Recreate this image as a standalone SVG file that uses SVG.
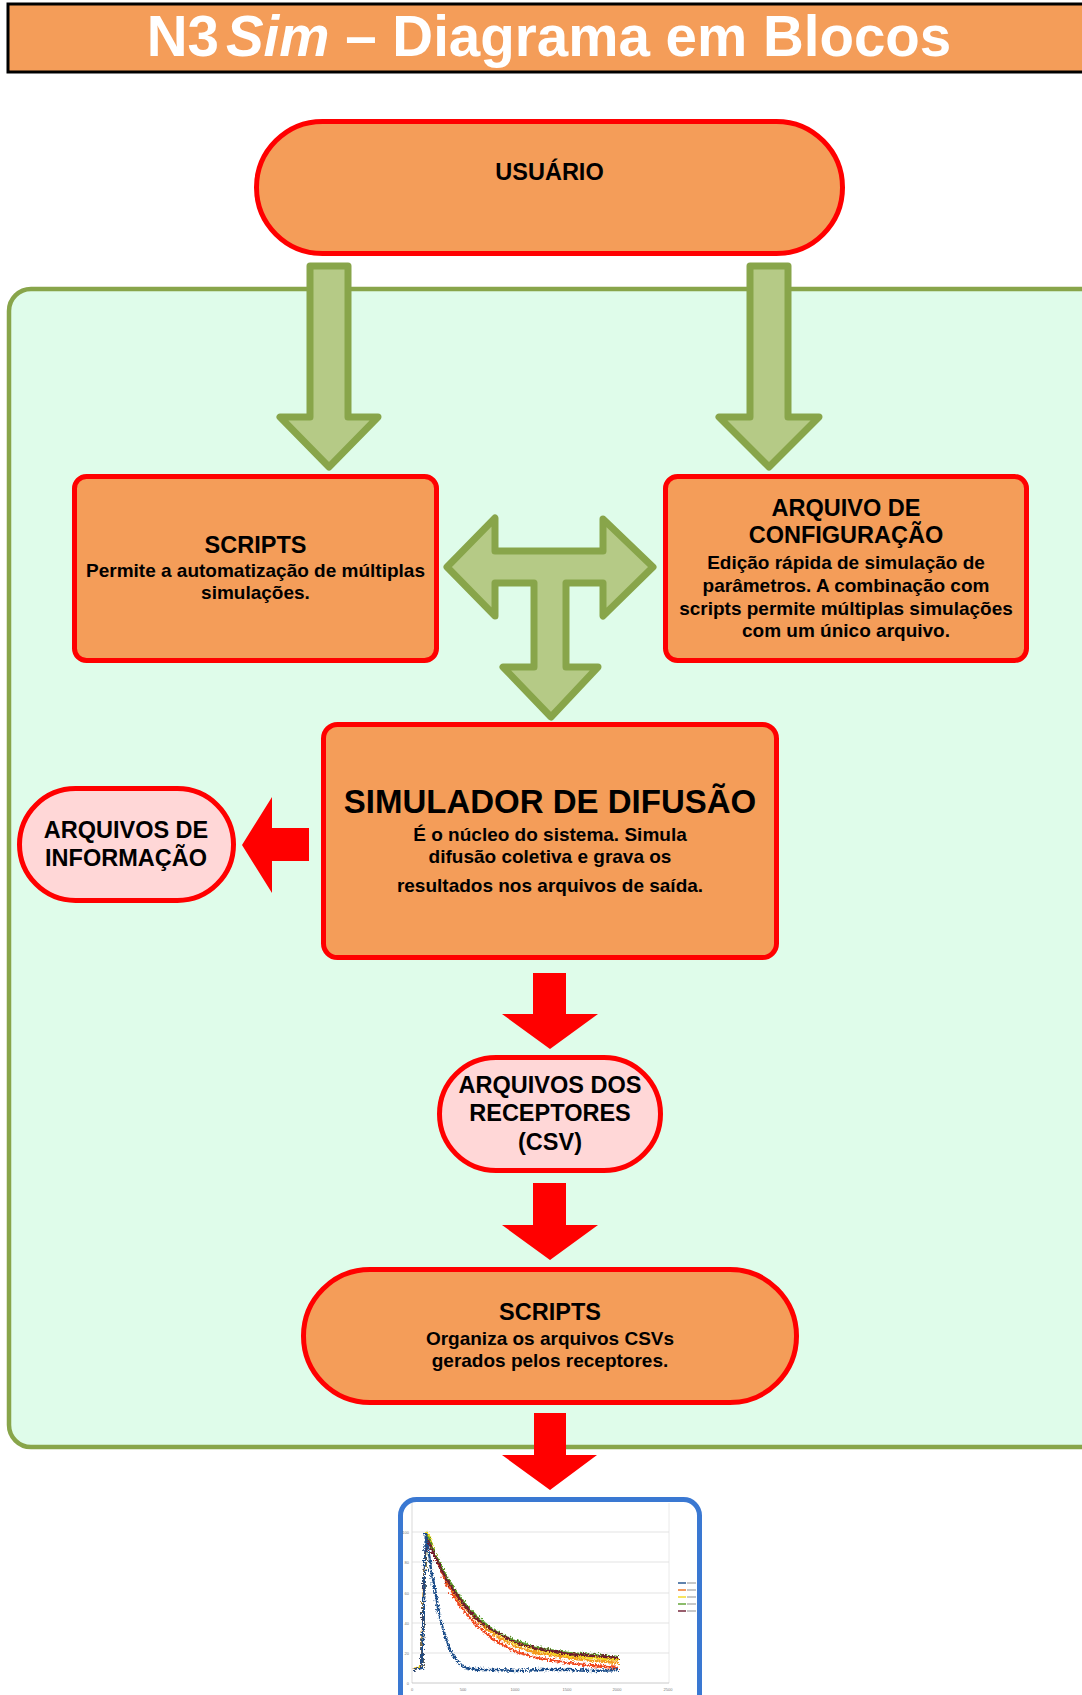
<svg xmlns="http://www.w3.org/2000/svg" width="1082" height="1695" viewBox="0 0 1082 1695">
<defs>
<style>
.t{font-family:"Liberation Sans",Arial,sans-serif;font-weight:bold;fill:#000;text-anchor:middle}
.h{font-size:23.5px}
.s{font-size:19px}
.box{fill:#F49D59;stroke:#FF0000;stroke-width:5}
.pink{fill:#FFD7D7;stroke:#FF0000;stroke-width:5}
.garrow{fill:#B5CA86;stroke:#88A54A;stroke-width:7;stroke-linejoin:round}
.rarrow{fill:#FF0000}
.grid{stroke:#DCDCDC;stroke-width:0.8}
.lbl{font-family:"Liberation Sans",Arial,sans-serif;font-size:4px;fill:#777}
.c{fill:none;stroke-width:2.3;stroke-linejoin:round}
</style>
<filter id="jit" x="-5%" y="-10%" width="110%" height="120%">
<feTurbulence type="turbulence" baseFrequency="0.4" numOctaves="1" seed="4" result="n"/>
<feDisplacementMap in="SourceGraphic" in2="n" scale="5" xChannelSelector="R" yChannelSelector="G"/>
</filter>
</defs>
<rect width="1082" height="1695" fill="#FFFFFF"/>

<g id="title">
<rect x="8" y="4" width="1090" height="68" fill="#F49D59" stroke="#000" stroke-width="3"/>
<text x="549" y="56" font-family="Liberation Sans, Arial, sans-serif" font-weight="bold" font-size="56.5" fill="#FFFFFF" text-anchor="middle">N3<tspan dx="7" font-style="italic">Sim</tspan> – Diagrama em Blocos</text>
</g>

<g id="container">
<rect x="9" y="289" width="1100" height="1158" rx="22" fill="#DFFCEA" stroke="#88A54A" stroke-width="4.5"/>
</g>

<g id="usuario">
<rect class="box" x="256.5" y="121.5" width="586" height="132" rx="66"/>
<text class="t h" x="549.5" y="180">USUÁRIO</text>
</g>

<g id="scripts-top">
<rect class="box" x="74.5" y="476.5" width="362" height="184" rx="12"/>
<text class="t h" x="255.5" y="553">SCRIPTS</text>
<text class="t s" x="255.5" y="577">Permite a automatização de múltiplas</text>
<text class="t s" x="255.5" y="599">simulações.</text>
</g>

<g id="config">
<rect class="box" x="665.5" y="476.5" width="361" height="184" rx="12"/>
<text class="t h" x="846" y="516">ARQUIVO DE</text>
<text class="t h" x="846" y="543">CONFIGURAÇÃO</text>
<text class="t s" x="846" y="569">Edição rápida de simulação de</text>
<text class="t s" x="846" y="592">parâmetros. A combinação com</text>
<text class="t s" x="846" y="615">scripts permite múltiplas simulações</text>
<text class="t s" x="846" y="637">com um único arquivo.</text>
</g>

<g id="simulador">
<rect class="box" x="323.5" y="724.5" width="453" height="233" rx="14"/>
<text class="t" x="550" y="813" font-size="33">SIMULADOR DE DIFUSÃO</text>
<text class="t s" x="550" y="841">É o núcleo do sistema. Simula</text>
<text class="t s" x="550" y="863">difusão coletiva e grava os</text>
<text class="t s" x="550" y="892">resultados nos arquivos de saída.</text>
</g>

<g id="info">
<rect class="pink" x="19.5" y="788.5" width="214" height="112" rx="56"/>
<text class="t h" x="126" y="838">ARQUIVOS DE</text>
<text class="t h" x="126" y="866">INFORMAÇÃO</text>
</g>

<g id="receptores">
<rect class="pink" x="439.5" y="1057.5" width="221" height="113" rx="56.5"/>
<text class="t h" x="550" y="1093">ARQUIVOS DOS</text>
<text class="t h" x="550" y="1121">RECEPTORES</text>
<text class="t h" x="550" y="1150">(CSV)</text>
</g>

<g id="scripts-bottom">
<rect class="box" x="303.5" y="1269.5" width="493" height="133" rx="66.5"/>
<text class="t h" x="550" y="1320">SCRIPTS</text>
<text class="t s" x="550" y="1345">Organiza os arquivos CSVs</text>
<text class="t s" x="550" y="1367">gerados pelos receptores.</text>
</g>

<g id="chart">
<rect x="400.5" y="1499.5" width="299" height="250" rx="16" fill="#FFFFFF" stroke="#3A78D2" stroke-width="5"/>
<line x1="412" y1="1503" x2="412" y2="1683" stroke="#CFCFCF" stroke-width="0.8"/>
<line x1="669" y1="1503" x2="669" y2="1683" stroke="#E4E4E4" stroke-width="0.8"/>
<line class="grid" x1="412" y1="1532" x2="669" y2="1532"/>
<line class="grid" x1="412" y1="1562" x2="669" y2="1562"/>
<line class="grid" x1="412" y1="1593" x2="669" y2="1593"/>
<line class="grid" x1="412" y1="1623" x2="669" y2="1623"/>
<line class="grid" x1="412" y1="1653" x2="669" y2="1653"/>
<line x1="412" y1="1683" x2="669" y2="1683" stroke="#BDBDBD" stroke-width="0.8"/>
<g class="lbl" text-anchor="end">
<text x="409" y="1534">100</text>
<text x="409" y="1564">80</text>
<text x="409" y="1595">60</text>
<text x="409" y="1625">40</text>
<text x="409" y="1655">20</text>
<text x="409" y="1685">0</text>
</g>
<g class="lbl" text-anchor="middle">
<text x="412" y="1691">0</text>
<text x="463" y="1691">500</text>
<text x="515" y="1691">1000</text>
<text x="567" y="1691">1500</text>
<text x="617" y="1691">2000</text>
<text x="668" y="1691">2500</text>
</g>
<g filter="url(#jit)">
<path class="c" stroke="#F0461C" d="M412,1668 L420.2,1665 L422.3,1577 L425.3,1532 L432.5,1553 L442.8,1577 L453,1596 L463.3,1611 L473.5,1622 L483.8,1631 L494,1639 L504.3,1645 L514.5,1650 L535,1656 L565.8,1661 L591.4,1664 L617,1666"/>
<path class="c" stroke="#F39A1E" d="M412,1667 L420.2,1664 L422.3,1578 L425.3,1531 L432.5,1550 L442.8,1574 L453,1592 L463.3,1606 L473.5,1617 L483.8,1626 L494,1634 L504.3,1640 L514.5,1645 L535,1651 L565.8,1656 L591.4,1659 L617,1661"/>
<path class="c" stroke="#F4D81E" d="M412,1667 L420.2,1664 L422.3,1578 L425.3,1530 L432.5,1550 L442.8,1572 L453,1590 L463.3,1604 L473.5,1615 L483.8,1624 L494,1631 L504.3,1637 L514.5,1642 L535,1648 L565.8,1654 L591.4,1656 L617,1658"/>
<path class="c" stroke="#5BA02C" d="M412,1668 L420.2,1665 L422.3,1580 L425.3,1533 L432.5,1550 L442.8,1571 L453,1588 L463.3,1602 L473.5,1613 L483.8,1622 L494,1629 L504.3,1635 L514.5,1639 L535,1646 L565.8,1651 L591.4,1653 L617,1655"/>
<path class="c" stroke="#6E1A2E" d="M412,1668 L420.2,1665 L422.3,1582 L424.5,1535 L432.5,1553 L442.8,1574 L453,1591 L463.3,1604 L473.5,1616 L483.8,1624 L494,1630 L504.3,1636 L514.5,1641 L535,1647 L565.8,1652 L591.4,1654 L617,1656"/>
<path class="c" stroke="#1C4E8A" d="M412,1668 L420.2,1666 L422.3,1592 L423.8,1532 L425.3,1540 L429.4,1570 L432.5,1585 L437.6,1615 L442.8,1633 L447.9,1647 L453,1656 L458.1,1663 L463.3,1666 L473.5,1668 L494,1668 L514.5,1669 L540,1668 L565.8,1668 L591.4,1669 L617,1668"/>
</g>
<g stroke-width="1.4">
<line x1="678" y1="1583" x2="686" y2="1583" stroke="#1C4E8A"/>
<line x1="678" y1="1590" x2="686" y2="1590" stroke="#F0701C"/>
<line x1="678" y1="1597" x2="686" y2="1597" stroke="#F4D81E"/>
<line x1="678" y1="1604" x2="686" y2="1604" stroke="#5BA02C"/>
<line x1="678" y1="1611" x2="686" y2="1611" stroke="#6E1A2E"/>
</g>
<g fill="#C8C8C8">
<rect x="687" y="1582" width="9" height="2"/>
<rect x="687" y="1589" width="9" height="2"/>
<rect x="687" y="1596" width="9" height="2"/>
<rect x="687" y="1603" width="9" height="2"/>
<rect x="687" y="1610" width="9" height="2"/>
</g>
</g>

<g id="connectors">
<polygon class="garrow" points="310,266 348,266 348,417 378,417 329,467 280,417 310,417"/>
<polygon class="garrow" points="750,266 788,266 788,417 819,417 769,467 719,417 750,417"/>
<polygon class="garrow" points="447,567 495,518 495,551 603,551 603,519 653,567 603,616 603,583 566,583 566,667 598,667 551,717 503,667 534,667 534,583 495,583 495,616"/>
<polygon class="rarrow" points="309,828 309,861 272,861 272,893 242,845 272,797 272,828"/>
<polygon class="rarrow" points="533,973 566,973 566,1014 598,1014 550,1049 502,1014 533,1014"/>
<polygon class="rarrow" points="533,1183 566,1183 566,1225 598,1225 550,1260 502,1225 533,1225"/>
<polygon class="rarrow" points="534,1413 566,1413 566,1455 597,1455 550,1490 502,1455 534,1455"/>
</g>
</svg>
